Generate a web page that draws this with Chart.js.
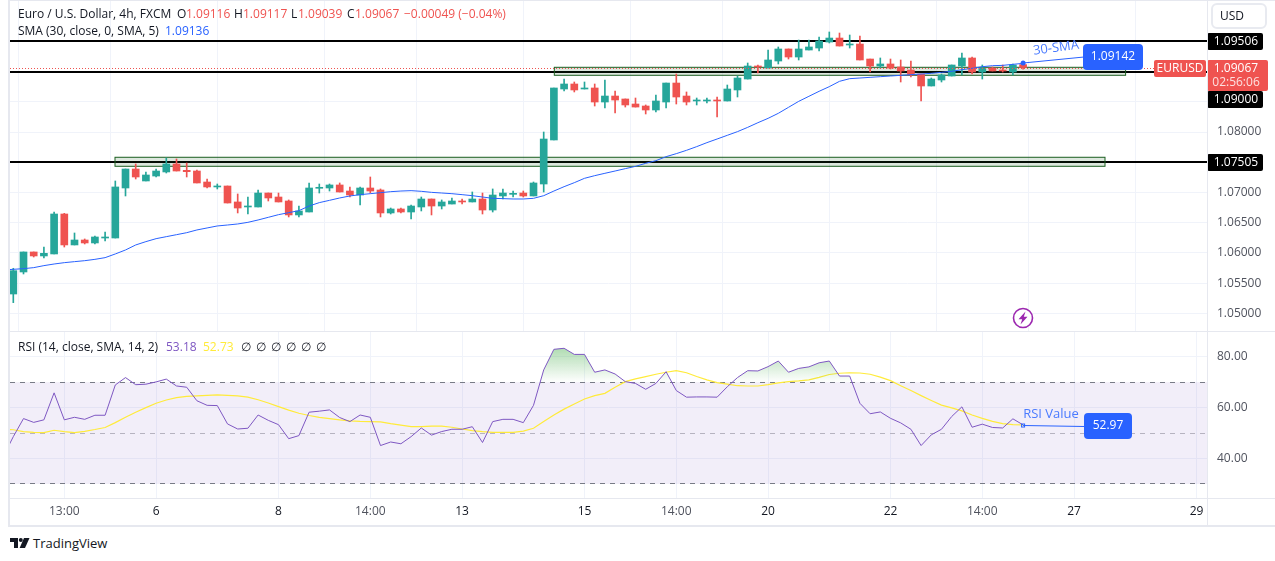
<!DOCTYPE html>
<html><head><meta charset="utf-8">
<script src="https://cdn.jsdelivr.net/npm/chart.js@4"></script>
<style>
html,body{margin:0;padding:0;background:#fff;width:1275px;height:561px;overflow:hidden;font-family:"Open Sans",sans-serif}
canvas{position:absolute;left:0}
.t{position:absolute;font-size:12px;line-height:14px;white-space:pre;color:#131722}
.rule{position:absolute;background:#e6e8ef}
</style></head><body>
<canvas id="main" width="1275" height="331" style="top:0"></canvas>
<canvas id="rsi" width="1275" height="194" style="top:331px"></canvas>
<div class="rule" style="left:8px;top:0;width:2px;height:527px"></div>
<div class="rule" style="left:8px;top:0;width:1267px;height:1px"></div>
<div class="rule" style="left:8px;top:331px;width:1267px;height:1px"></div>
<div class="rule" style="left:8px;top:498px;width:1267px;height:1px"></div>
<div class="rule" style="left:8px;top:525px;width:1267px;height:2px"></div>
<div class="rule" style="left:1207px;top:0;width:1px;height:525px"></div>

<div class="t" style="left:18px;top:7px">Euro / U.S. Dollar, 4h, FXCM</div>
<div class="t" style="left:177px;top:7px">O</div><div class="t red" style="left:186px;top:7px;color:#ef5350">1.09116</div>
<div class="t" style="left:234px;top:7px">H</div><div class="t" style="left:243px;top:7px;color:#ef5350">1.09117</div>
<div class="t" style="left:291px;top:7px">L</div><div class="t" style="left:298px;top:7px;color:#ef5350">1.09039</div>
<div class="t" style="left:347px;top:7px">C</div><div class="t" style="left:355px;top:7px;color:#ef5350">1.09067</div>
<div class="t" style="left:404px;top:7px;color:#ef5350">−0.00049 (−0.04%)</div>
<div class="t" style="left:18px;top:24px">SMA (30, close, 0, SMA, 5)</div>
<div class="t" style="left:165px;top:24px;color:#2962ff">1.09136</div>
<div class="t" style="left:18px;top:340px">RSI (14, close, SMA, 14, 2)</div>
<div class="t" style="left:166px;top:340px;color:#7e57c2">53.18</div>
<div class="t" style="left:203px;top:340px;color:#ffeb3b">52.73</div>
<div class="t" style="left:241px;top:340px">∅</div><div class="t" style="left:256px;top:340px">∅</div><div class="t" style="left:271px;top:340px">∅</div><div class="t" style="left:286px;top:340px">∅</div><div class="t" style="left:301px;top:340px">∅</div><div class="t" style="left:316px;top:340px">∅</div>

<div style="position:absolute;left:1211px;top:3px;width:52px;height:22px;border:2px solid #e8eaf0;border-radius:6px"></div>
<div class="t" style="left:1220px;top:9px">USD</div>

<svg style="position:absolute;left:1012px;top:307px" width="22" height="22" viewBox="0 0 22 22">
<circle cx="11" cy="11" r="9.5" fill="#fff" stroke="#9c27b0" stroke-width="1.6"/>
<path d="M13.5 4.5 L6.5 12.2 H10.2 L8.5 17.5 L15.5 9.8 H11.8 Z" fill="#9c27b0"/></svg>

<svg style="position:absolute;left:10px;top:537px" width="20" height="12" viewBox="0 0 20 12">
<path d="M0 1 H8 V11 H4 V5 H0 Z" fill="#131722"/><circle cx="10.8" cy="3" r="2" fill="#131722"/>
<path d="M14 1 H19.5 L15 11 H9.6 Z" fill="#131722"/></svg>
<div class="t" style="left:33px;top:536px;font-size:13px">TradingView</div>

<script>
const FONT = '"Open Sans", sans-serif';
const GREEN = '#26a69a', RED = '#ef5350', BLUE = '#2962ff', GRID = '#f0f3fa';

const opens = [1.05322,1.05686,1.06017,1.05951,1.05984,1.06645,1.06133,1.06215,1.06166,1.06248,
1.06248,1.07075,1.07389,1.07191,1.07273,1.07340,1.07472,1.07367,1.07356,1.07174,
1.07092,1.07108,1.06844,1.06761,1.06761,1.06992,1.06926,1.06860,1.06629,1.06678,
1.07070,1.07075,1.07125,1.07025,1.06959,1.07075,1.07042,1.06662,1.06728,1.06678,
1.06761,1.06893,1.06777,1.06810,1.06860,1.06844,1.06893,1.06711,1.06943,1.06970,
1.06992,1.06943,1.07141,1.07869,1.08712,1.08795,1.08712,1.08729,1.08497,1.08596,
1.08547,1.08464,1.08431,1.08365,1.08497,1.08811,1.08596,1.08514,1.08514,1.08530,
1.08514,1.08696,1.08877,1.09092,1.09059,1.09175,1.09374,1.09241,1.09357,1.09390,
1.09489,1.09555,1.09440,1.09456,1.09208,1.09092,1.09126,1.09076,1.09026,1.08960,
1.08762,1.08861,1.08927,1.09092,1.09225,1.08993,1.09059,1.09026,1.08993,1.09116];
const closes = [1.05708,1.06017,1.05951,1.05995,1.06645,1.06133,1.06215,1.06166,1.06265,1.06259,
1.07092,1.07389,1.07257,1.07290,1.07356,1.07472,1.07356,1.07345,1.07158,1.07092,
1.07108,1.06827,1.06744,1.06777,1.06992,1.06910,1.06844,1.06629,1.06695,1.07075,
1.07086,1.07125,1.07009,1.06959,1.07075,1.07025,1.06662,1.06728,1.06678,1.06777,
1.06893,1.06777,1.06844,1.06860,1.06844,1.06893,1.06711,1.06959,1.06992,1.06987,
1.06943,1.07158,1.07885,1.08729,1.08795,1.08696,1.08729,1.08497,1.08596,1.08530,
1.08448,1.08414,1.08365,1.08514,1.08811,1.08580,1.08497,1.08530,1.08530,1.08514,
1.08712,1.08894,1.09092,1.09076,1.09192,1.09374,1.09241,1.09374,1.09407,1.09506,
1.09555,1.09423,1.09456,1.09192,1.09092,1.09126,1.09059,1.09010,1.08944,1.08762,
1.08877,1.08944,1.09109,1.09225,1.08993,1.09059,1.09010,1.09010,1.09109,1.09067];
const highs = [1.05747,1.06017,1.06017,1.06099,1.06678,1.06656,1.06331,1.06232,1.06281,1.06347,
1.07191,1.07389,1.07472,1.07340,1.07389,1.07571,1.07555,1.07488,1.07373,1.07224,
1.07141,1.07108,1.06976,1.06926,1.07042,1.06992,1.06992,1.06877,1.06777,1.07158,
1.07141,1.07141,1.07158,1.07092,1.07092,1.07257,1.07059,1.06744,1.06744,1.06794,
1.06926,1.06893,1.06877,1.06910,1.06893,1.07009,1.06992,1.07059,1.07059,1.07025,
1.07025,1.07174,1.08001,1.08729,1.08877,1.08828,1.08828,1.08795,1.08861,1.08679,
1.08547,1.08563,1.08448,1.08613,1.08811,1.08960,1.08663,1.08563,1.08563,1.08580,
1.08778,1.08927,1.09142,1.09109,1.09357,1.09407,1.09374,1.09522,1.09522,1.09572,
1.09655,1.09638,1.09605,1.09589,1.09208,1.09225,1.09208,1.09192,1.09175,1.08960,
1.08894,1.08960,1.09109,1.09307,1.09241,1.09109,1.09076,1.09109,1.09126,1.09117];
const lows = [1.05179,1.05653,1.05934,1.05918,1.05984,1.06099,1.06133,1.06149,1.06149,1.06199,
1.06248,1.06943,1.07224,1.07191,1.07257,1.07323,1.07356,1.07257,1.07158,1.07075,
1.07059,1.06827,1.06662,1.06645,1.06761,1.06860,1.06844,1.06596,1.06596,1.06678,
1.06992,1.07025,1.07009,1.06926,1.06794,1.06992,1.06596,1.06645,1.06662,1.06562,
1.06695,1.06629,1.06728,1.06810,1.06810,1.06844,1.06645,1.06678,1.06893,1.06926,
1.06926,1.06943,1.07009,1.07869,1.08679,1.08663,1.08712,1.08431,1.08398,1.08315,
1.08414,1.08414,1.08299,1.08332,1.08398,1.08464,1.08448,1.08448,1.08481,1.08249,
1.08514,1.08580,1.08877,1.08977,1.09059,1.09126,1.09208,1.09192,1.09357,1.09340,
1.09473,1.09423,1.09390,1.09192,1.08993,1.09059,1.09043,1.08828,1.08911,1.08514,
1.08762,1.08828,1.08927,1.08944,1.08960,1.08877,1.09010,1.08993,1.08944,1.09039];

// the three indicator series start one bar before the first candle (it sits just off the left edge)
const smaValues = [1.05719,1.05730,1.05741,1.05758,1.05791,1.05818,1.05840,1.05857,1.05873,1.05895,1.05923,
1.05984,1.06050,1.06133,1.06188,1.06237,1.06270,1.06303,1.06336,1.06381,1.06414,
1.06447,1.06463,1.06480,1.06507,1.06546,1.06590,1.06634,1.06667,1.06700,1.06777,
1.06833,1.06871,1.06910,1.06943,1.06965,1.06981,1.06998,1.07014,1.07025,1.07031,
1.07020,1.07003,1.06992,1.06981,1.06965,1.06948,1.06926,1.06904,1.06899,1.06893,
1.06893,1.06904,1.06948,1.07025,1.07097,1.07163,1.07235,1.07279,1.07318,1.07356,
1.07395,1.07433,1.07483,1.07527,1.07593,1.07643,1.07698,1.07759,1.07825,1.07885,
1.07946,1.08007,1.08078,1.08155,1.08227,1.08310,1.08409,1.08508,1.08591,1.08674,
1.08751,1.08839,1.08883,1.08894,1.08905,1.08916,1.08927,1.08938,1.08949,1.08960,
1.08971,1.08988,1.09004,1.09032,1.09054,1.09081,1.09098,1.09103,1.09120,1.09136];
const rsiValues = [40.7,48.6,55.7,54.2,55.2,65.8,55.2,56.2,55.4,57.0,57.0,
68.9,71.8,69.0,69.2,70.1,71.2,68.5,68.0,62.7,60.9,
60.8,53.6,51.6,51.9,57.1,55.0,53.3,47.8,49.0,58.2,
58.6,59.1,56.1,54.5,57.1,56.2,45.1,46.5,45.8,48.6,
52.0,49.2,50.6,51.5,51.5,52.5,46.3,54.5,55.4,55.4,
54.1,60.9,74.8,82.9,83.3,80.9,80.9,73.9,74.8,73.2,
70.2,69.5,67.2,69.5,74.1,66.7,64.1,64.2,64.2,64.1,
68.2,71.8,74.5,74.4,76.1,78.3,73.9,75.4,76.0,77.6,
78.3,72.4,72.4,61.7,57.6,58.3,55.8,54.0,51.5,45.1,
49.3,51.5,56.5,60.3,52.3,53.5,52.2,52.0,55.6,53.2];
const signalValues = [51.4,51.3,50.6,50.3,50.2,51.1,50.6,50.2,50.7,51.4,52.2,
54.1,56.2,58.2,60.0,61.7,63.0,63.9,64.4,64.6,64.8,
65.0,64.8,64.6,64.1,63.1,61.8,60.4,59.0,57.8,56.9,
56.2,55.7,55.2,54.8,54.6,54.5,54.4,53.7,53.1,52.5,
52.5,52.7,52.7,52.3,51.6,51.0,50.6,50.3,50.3,50.3,
50.8,51.9,54.5,57.1,59.4,61.4,63.4,64.7,65.6,68.0,
70.2,71.3,72.2,73.1,73.9,74.5,73.7,72.2,70.9,69.8,
69.2,68.6,68.5,68.5,69.0,69.7,70.2,70.5,70.9,71.9,
73.0,73.5,73.7,73.6,73.1,72.0,70.6,68.6,66.7,64.7,
62.8,61.0,59.9,58.7,57.1,55.8,54.6,53.7,53.3,53.2];

const tickPositions = [5,14,26,35,44,56,65,74,86,95,104,116];
const tickLabels = ['13:00','6','8','14:00','13','15','14:00','20','22','14:00','27','29'];
const priceTicks = [1.05,1.055,1.06,1.065,1.07,1.075,1.08,1.085,1.09,1.095];
const hiddenPriceLabels = [1.075,1.085,1.09,1.095];
const rsiTicks = [40,60,80];
const levelLines = [1.09506,1.09,1.07505];
const lastClose = 1.09067;
const zoneLow = {x0:9.97,x1:107.03,top:1.07583,bottom:1.07434};
const zoneHigh = {x0:53.04,x1:109.05,top:1.09071,bottom:1.08939};

const XMIN = -0.324, XMAX = 117.03;
const xs = opens.map((_,i)=>i);
const colors = opens.map((o,i)=>closes[i]>=o?GREEN:RED);

function rr(c,x,y,w,h,r,fill){c.fillStyle=fill;c.beginPath();c.roundRect(x,y,w,h,r);c.fill();}
function label(c,txt,x,y,opt){opt=opt||{};c.font=(opt.weight||'')+' '+(opt.size||12)+'px '+FONT;c.fillStyle=opt.color||'#fff';
  c.textAlign=opt.align||'center';c.textBaseline='middle';c.fillText(txt,x,y);}
function noPad(s){s.paddingTop=0;s.paddingBottom=0;s.paddingLeft=0;s.paddingRight=0;}

function xAxis(showLabels){return {type:'linear',min:XMIN,max:XMAX,offset:false,
  afterBuildTicks(s){s.ticks=tickPositions.map(v=>({value:v}));},
  afterFit(s){s.height=showLabels?27:0;noPad(s);},
  grid:{color:GRID,drawTicks:false,lineWidth:1},border:{display:false},
  ticks:{display:showLabels,autoSkip:false,maxRotation:0,padding:6,font:{family:FONT,size:12},
    color(c){const t=tickLabels[c.index];return t&&t.includes(':')?'#50535e':'#131722';},
    callback(v){const k=tickPositions.indexOf(v);return k<0?'':tickLabels[k];}}};}

const mainOverlay = {id:'mainOverlay',
 beforeDatasetsDraw(ch){const c=ch.ctx,X=ch.scales.x,Y=ch.scales.y,a=ch.chartArea;
  c.save();
  for(const p of levelLines){c.fillStyle='#000';c.fillRect(a.left,Math.round(Y.getPixelForValue(p))-1,a.right-a.left,2);}
  for(const z of [zoneLow,zoneHigh]){
    const x=X.getPixelForValue(z.x0),w=X.getPixelForValue(z.x1)-x,y=Y.getPixelForValue(z.top),h=Y.getPixelForValue(z.bottom)-y;
    c.fillStyle='rgba(27,94,32,0.15)';c.fillRect(x,y,w,h);
    c.strokeStyle='#1b5e20';c.lineWidth=1;c.strokeRect(x,y,w,h);}
  c.restore();},
 afterDatasetsDraw(ch){const c=ch.ctx,X=ch.scales.x,Y=ch.scales.y,a=ch.chartArea;
  c.save();
  c.strokeStyle=RED;c.lineWidth=1;c.setLineDash([1,2]);c.beginPath();
  const yc=Math.round(Y.getPixelForValue(lastClose))+.5;c.moveTo(a.left,yc);c.lineTo(a.right,yc);c.stroke();c.setLineDash([]);
  const px=X.getPixelForValue(99),py=Y.getPixelForValue(1.09142);
  c.strokeStyle=BLUE;c.beginPath();c.moveTo(px,py);c.lineTo(1084,57);c.stroke();
  c.fillStyle=BLUE;c.beginPath();c.arc(px,py,2.5,0,7);c.fill();
  rr(c,1083,44,60,26,4,BLUE);label(c,'1.09142',1113,57);
  c.save();c.translate(1056,48);c.rotate(-0.13);label(c,'30-SMA',0,0,{color:'#4a7bff',size:13});c.restore();
  rr(c,1154,60,52,17,2,RED);label(c,'EURUSD',1180,68.5);
  rr(c,1207,33,56,17,2,'#000');label(c,'1.09506',1236,41.5);
  rr(c,1207,91,56,17,2,'#000');label(c,'1.09000',1236,99.5);
  rr(c,1207,154,56,17,2,'#000');label(c,'1.07505',1236,162.5);
  rr(c,1207,60,61,31,2,RED);label(c,'1.09067',1236,68.5);label(c,'02:56:06',1236,83,{color:'#fde0df'});
  c.restore();}};

new Chart(document.getElementById('main'),{
 data:{datasets:[
  {type:'line',order:0,data:smaValues.map((v,i)=>({x:i-1,y:v})),borderColor:BLUE,borderWidth:1,pointRadius:0,tension:0},
  {type:'bar',order:1,grouped:false,barThickness:7,data:xs.map(i=>({x:i,y:[opens[i],closes[i]]})),backgroundColor:colors,minBarLength:1},
  {type:'bar',order:2,grouped:false,barThickness:1,data:xs.map(i=>({x:i,y:[lows[i],highs[i]]})),backgroundColor:colors}
 ]},
 options:{responsive:false,animation:false,devicePixelRatio:1,
  layout:{autoPadding:false,padding:{left:10,top:0,right:0,bottom:0}},
  plugins:{legend:{display:false},tooltip:{enabled:false}},
  scales:{x:xAxis(false),
   y:{position:'right',min:1.04710,max:1.10184,
    afterBuildTicks(s){s.ticks=priceTicks.map(v=>({value:v}));},
    afterFit(s){s.width=68;noPad(s);},
    grid:{color:GRID,drawTicks:false},border:{display:false},
    ticks:{padding:10,color:'#50535e',font:{family:FONT,size:12},
     callback(v){return hiddenPriceLabels.includes(v)?'':v.toFixed(5);}}}}},
 plugins:[mainOverlay]});

const rsiOverlay = {id:'rsiOverlay',
 beforeDatasetsDraw(ch){const c=ch.ctx,Y=ch.scales.y,a=ch.chartArea;
  c.save();
  c.fillStyle='rgba(126,87,194,0.1)';
  const y70=Y.getPixelForValue(70),y30=Y.getPixelForValue(30),y50=Y.getPixelForValue(50);
  c.fillRect(a.left,y70,a.right-a.left,y30-y70);
  c.lineWidth=1;c.setLineDash([5,5]);
  for(const [y,col] of [[y70,'#787b86'],[y30,'#787b86'],[y50,'#b6b3c0']]){c.strokeStyle=col;c.beginPath();c.moveTo(a.left,Math.floor(y)+.5);c.lineTo(a.right,Math.floor(y)+.5);c.stroke();}
  c.restore();},
 afterDatasetsDraw(ch){const c=ch.ctx,X=ch.scales.x,Y=ch.scales.y;
  c.save();
  const px=X.getPixelForValue(99),py=Y.getPixelForValue(52.97);
  c.strokeStyle=BLUE;c.lineWidth=1;c.beginPath();c.moveTo(px,py);c.lineTo(1085,py+1);c.stroke();
  c.fillStyle='#fff';c.strokeRect(px-1.5,py-1.5,3,3);
  rr(c,1084,82,48,26,4,BLUE);label(c,'52.97',1108,95);
  label(c,'RSI Value',1051,83,{color:'#4a7bff',size:13});
  c.restore();}};

const rsiCtx = document.getElementById('rsi').getContext('2d');
const greenFade = rsiCtx.createLinearGradient(0,19,0,50);
greenFade.addColorStop(0,'rgba(76,175,80,0.42)');
greenFade.addColorStop(1,'rgba(76,175,80,0.02)');

new Chart(rsiCtx,{
 data:{datasets:[
  {type:'line',order:0,data:rsiValues.map((v,i)=>({x:i-1,y:v})),borderColor:'#7e57c2',borderWidth:1,pointRadius:0,tension:0,
   fill:{value:70,above:greenFade,below:'rgba(0,0,0,0)'}},
  {type:'line',order:1,data:signalValues.map((v,i)=>({x:i-1,y:v})),borderColor:'#ffeb3b',borderWidth:1.2,pointRadius:0,tension:0}
 ]},
 options:{responsive:false,animation:false,devicePixelRatio:1,
  layout:{autoPadding:false,padding:{left:10,top:1,right:0,bottom:0}},
  plugins:{legend:{display:false},tooltip:{enabled:false}},
  scales:{x:xAxis(true),
   y:{position:'right',min:24.5,max:89.7,
    afterBuildTicks(s){s.ticks=rsiTicks.map(v=>({value:v}));},
    afterFit(s){s.width=68;noPad(s);},
    grid:{color:GRID,drawTicks:false},border:{display:false},
    ticks:{padding:10,color:'#50535e',font:{family:FONT,size:12},callback(v){return v.toFixed(2);}}}}},
 plugins:[rsiOverlay]});
</script>
</body></html>
